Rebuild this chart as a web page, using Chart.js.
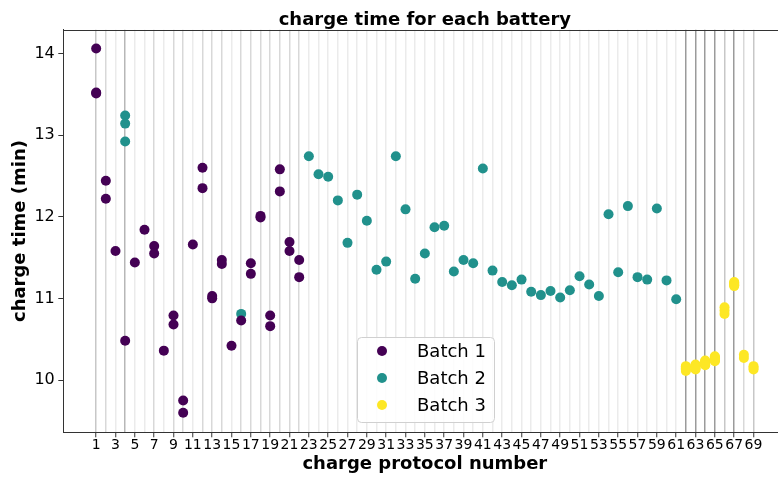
<!DOCTYPE html>
<html>
<head>
<meta charset="utf-8">
<script src="https://cdn.jsdelivr.net/npm/chart.js@4.4.0/dist/chart.umd.min.js"></script>
<style>
  html, body { margin: 0; padding: 0; background: #fff; overflow: hidden; }
  #wrap { width: 778px; height: 477px; overflow: hidden; }
</style>
</head>
<body>
<div id="wrap"><canvas id="myChart" width="800" height="477"></canvas></div>
<script>
// charge protocol number / charge time (min) for every cell, per batch
var batch1Protocol = [1, 1, 1, 2, 2, 3, 4, 5, 6, 7, 7, 8, 9, 9, 10, 10, 11, 12, 12, 13, 13,
  14, 14, 15, 16, 17, 17, 18, 18, 19, 19, 20, 20, 21, 21, 22, 22];
var batch1Time = [14.06, 13.52, 13.51, 12.44, 12.22, 11.58, 10.48, 11.44, 11.84, 11.64, 11.55,
  10.36, 10.79, 10.68, 9.75, 9.60, 11.66, 12.60, 12.35, 11.03, 11.00,
  11.47, 11.42, 10.42, 10.73, 11.43, 11.30, 12.01, 11.99, 10.79, 10.66, 12.58, 12.31, 11.69, 11.58, 11.47, 11.26];

var batch2Protocol = [4, 4, 4, 16, 23, 24, 25, 26, 27, 28, 29, 30, 31, 32, 33, 34, 35, 36, 37, 38, 39,
  40, 41, 42, 43, 44, 45, 46, 47, 48, 49, 50, 51, 52, 53, 54, 55, 56, 57, 58, 59, 60, 61];
var batch2Time = [13.24, 13.14, 12.92, 10.81, 12.74, 12.52, 12.49, 12.20, 11.68, 12.27, 11.95, 11.35, 11.45,
  12.74, 12.09, 11.24, 11.55, 11.87, 11.89, 11.33, 11.47, 11.43, 12.59, 11.34, 11.20, 11.16, 11.23,
  11.08, 11.04, 11.09, 11.01, 11.10, 11.27, 11.17, 11.03, 12.03, 11.32, 12.13, 11.26, 11.23, 12.10, 11.22, 10.99];

var batch3Protocol = [62, 62, 62, 62, 62, 62, 63, 63, 63, 63, 63, 63, 64, 64, 64, 64, 64, 64,
  65, 65, 65, 65, 65, 65, 66, 66, 66, 67, 67, 67, 67, 67, 67, 68, 68, 69, 69, 69];
var batch3Time = [10.17, 10.16, 10.15, 10.14, 10.13, 10.11, 10.19, 10.18, 10.17, 10.16, 10.14, 10.13,
  10.24, 10.23, 10.22, 10.21, 10.19, 10.18, 10.29, 10.28, 10.27, 10.25, 10.24, 10.23,
  10.89, 10.85, 10.81, 11.20, 11.19, 11.18, 11.17, 11.16, 11.15, 10.31, 10.27, 10.17, 10.15, 10.13];

var batchLabels = ['Batch 1', 'Batch 2', 'Batch 3'];
var batchColors = ['#440154', '#21918c', '#fde725'];
var xTicks = [];
for (var i = 1; i <= 69; i++) xTicks.push(i);
var yTicks = [10, 11, 12, 13, 14];

function toPoints(xs, ys) {
  return xs.map(function (x, i) { return {x: x, y: ys[i]}; });
}

// one grey line per cell, so protocols with many cells get darker lines
var cellCount = {};
batch1Protocol.concat(batch2Protocol, batch3Protocol).forEach(function (p) {
  cellCount[p] = (cellCount[p] || 0) + 1;
});

var frame = {
  id: 'frame',
  afterDraw: function (chart) {
    var c = chart.ctx, a = chart.chartArea;
    c.save();
    c.strokeStyle = '#333';
    c.lineWidth = 1;
    c.beginPath();
    c.moveTo(a.left, Math.round(a.top) + 0.5);
    c.lineTo(a.right, Math.round(a.top) + 0.5);
    c.stroke();

    // legend box
    var x0 = 357, y0 = 337, w = 137, h = 85, r = 4;
    c.fillStyle = 'rgba(255,255,255,0.85)';
    c.strokeStyle = '#d0d0d0';
    c.beginPath();
    c.roundRect(x0 + 0.5, y0 + 0.5, w, h, r);
    c.fill();
    c.stroke();
    c.font = '18px "DejaVu Sans"';
    c.textBaseline = 'middle';
    chart.data.datasets.forEach(function (ds, i) {
      var y = y0 + 14 + i * 27;
      c.fillStyle = ds.backgroundColor;
      c.beginPath();
      c.arc(x0 + 25, y, 5, 0, Math.PI * 2);
      c.fill();
      c.fillStyle = '#000';
      c.fillText(ds.label, x0 + 60, y + 1);
    });
    c.restore();
  }
};

Chart.defaults.font.family = '"DejaVu Sans"';
Chart.defaults.color = '#000';

var ctx = document.getElementById('myChart').getContext('2d');
var myChart = new Chart(ctx, {
  type: 'scatter',
  data: {
    datasets: [
      {label: batchLabels[0], data: toPoints(batch1Protocol, batch1Time), backgroundColor: batchColors[0]},
      {label: batchLabels[1], data: toPoints(batch2Protocol, batch2Time), backgroundColor: batchColors[1]},
      {label: batchLabels[2], data: toPoints(batch3Protocol, batch3Time), backgroundColor: batchColors[2]}
    ]
  },
  options: {
    responsive: false,
    animation: false,
    elements: {
      point: {radius: 5, hoverRadius: 5, borderWidth: 0}
    },
    layout: {padding: {left: 0, right: 13.6, top: 0, bottom: 0}},
    plugins: {
      legend: {display: false},
      tooltip: {enabled: false},
      title: {
        display: true,
        fullSize: false,
        text: 'charge time for each battery',
        color: '#000',
        font: {size: 18, weight: 'bold', lineHeight: 1},
        padding: {top: 11.7, bottom: 0}
      }
    },
    scales: {
      x: {
        type: 'linear',
        min: -2.4,
        max: 72.4,
        afterBuildTicks: function (s) { s.ticks = xTicks.map(function (v) { return {value: v}; }); },
        afterFit: function (s) { s.height = 44.7; },
        ticks: {
          autoSkip: false,
          maxRotation: 0,
          minRotation: 0,
          padding: 0,
          font: {size: 14},
          callback: function (v) { return v % 2 === 1 ? String(v) : ''; }
        },
        grid: {
          lineWidth: 1.5,
          tickLength: 5,
          tickWidth: 1,
          color: function (c) {
            var n = cellCount[c.tick && c.tick.value] || 0;
            return 'rgba(0,0,0,' + (1 - Math.pow(0.92, n)).toFixed(3) + ')';
          },
          tickColor: function (c) {
            return c.tick && c.tick.value % 2 === 1 ? '#333' : 'rgba(0,0,0,0)';
          }
        },
        border: {color: '#333', width: 1},
        title: {
          display: true,
          text: 'charge protocol number',
          font: {size: 18, weight: 'bold'},
          padding: {top: 0, bottom: 2}
        }
      },
      y: {
        min: 9.36,
        max: 14.29,
        afterBuildTicks: function (s) { s.ticks = yTicks.map(function (v) { return {value: v}; }); },
        afterFit: function (s) { s.width = 63.3; },
        ticks: {padding: 3.5, font: {size: 16}},
        grid: {drawOnChartArea: false, tickLength: 5, tickColor: '#333'},
        border: {color: '#333', width: 1},
        title: {
          display: true,
          text: 'charge time (min)',
          font: {size: 18, weight: 'bold'},
          padding: {top: 10, bottom: 0}
        }
      }
    }
  },
  plugins: [frame]
});
</script>
</body>
</html>
